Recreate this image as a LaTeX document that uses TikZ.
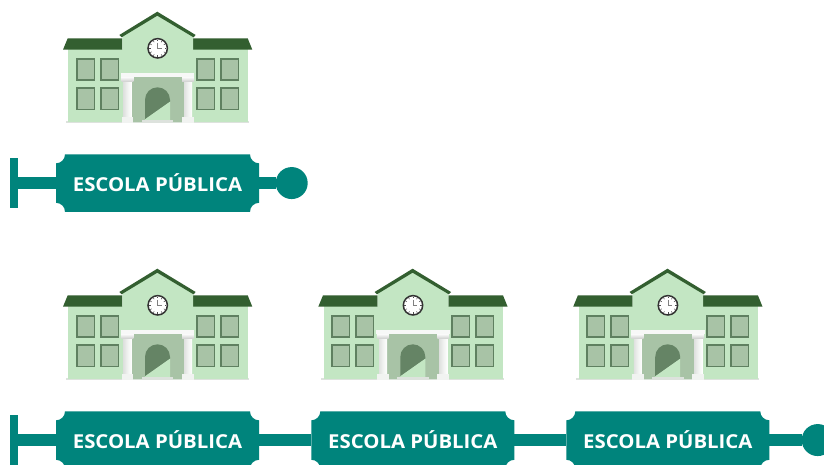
\documentclass[tikz,border=0pt]{standalone}
\usepackage{fontspec}
\setmainfont{Open Sans}[FakeStretch=1.06]
\definecolor{wall}{HTML}{C3E6C3}
\definecolor{roofdark}{HTML}{335F30}
\definecolor{winfill}{HTML}{A8C3A6}
\definecolor{winline}{HTML}{5F8060}
\definecolor{archdark}{HTML}{658465}
\definecolor{bannerteal}{HTML}{00847C}
\definecolor{stone}{HTML}{F1F3F1}
\definecolor{stepgrey}{HTML}{DDE2DD}
\tikzset{
  x=1pt,y=-1pt,
  winbox/.style={fill=winfill,draw=winline,line width=1.5pt},
  colshaft/.style={left color=stone!85!gray,right color=white,middle color=stone},
  colcap/.style={top color=white,bottom color=stone!70!gray},
  schoolbuilding/.pic={
    \fill[stepgrey] (66,121.3) rectangle (249,123.3);
    \fill[wall] (68.3,49) rectangle (247.7,122);
    \fill[roofdark] (63,49.7) -- (67.7,38.3) -- (122.3,38.3) -- (122.3,49.7) -- cycle;
    \fill[roofdark] (193,49.7) -- (193,38.3) -- (247.7,38.3) -- (252.3,49.7) -- cycle;
    \fill[wall] (122.3,36) -- (157.3,15) -- (193,36) -- (193,122) -- (122.3,122) -- cycle;
    \fill[roofdark] (119.3,35) -- (157.3,11.7) -- (195.7,35) -- (193.5,37.3) -- (157.3,15.7) -- (121.6,37.3) -- cycle;
    \foreach \wx in {76,100,196,220}{
      \draw[winbox] (\wx+.75,58.75) rectangle (\wx+18.25,80);
      \draw[winbox] (\wx+.75,87.75) rectangle (\wx+18.25,109.25);
    }
    \fill[winfill] (131,76) rectangle (184,122);
    \fill[archdark] (145,119.3) -- (145,100) .. controls (145,92.8) and (150.6,87.3) .. (157.5,87.3) .. controls (164.4,87.3) and (170,92.8) .. (170,100) -- (170,101.7) -- cycle;
    \fill[wall] (145,119.3) -- (170,101.7) -- (170,120.5) -- (145,120.5) -- cycle;
    \fill[stepgrey] (141.7,120) rectangle (173.3,123.3);
    \foreach \cx in {0,60.5}{
      \shade[colshaft] (123.7+\cx,80) rectangle (131.7+\cx,117);
      \shade[colcap] (121.5+\cx,76.5) rectangle (133.3+\cx,81.5);
      \fill[stone] (121.5+\cx,117) rectangle (133.3+\cx,123.3);
    }
    \fill[stone!60!white] (121,73.3) rectangle (194.3,77);
    \fill[white,draw=black!80,line width=1.5pt] (157.7,48.3) circle[radius=9.7];
    \foreach \ang in {0,30,...,330}{
      \draw[black!70,line width=.5pt] (157.7,48.3) ++(\ang:8.6) -- ++(\ang:-1.6);
    }
    \draw[black!50,line width=.5pt] (157.7,42.5) -- (157.7,48.3) -- (161.5,48.3);
  },
  endbar/.style={fill=bannerteal,minimum width=8pt,minimum height=50pt,inner sep=0pt,outer sep=0pt},
  enddot/.style={circle,fill=bannerteal,minimum size=32pt,inner sep=0pt,outer sep=0pt},
  bannerlabel/.style={minimum width=203pt,minimum height=57.5pt,inner sep=0pt,outer sep=0pt,text=white,
    font=\fontsize{19.2}{20}\selectfont\bfseries},
  bannerlink/.style={bannerteal,line width=12pt},
  bannerbody/.style={fill=bannerteal},
}
\newcommand{\bannerat}[4]{%
  \fill[bannerbody,shift={(#2,#3)}] (9,0) -- (194,0) .. controls (194,5) and (198,9) .. (203,9)
    -- (203,48.5) .. controls (198,48.5) and (194,52.5) .. (194,57.5)
    -- (9,57.5) .. controls (9,52.5) and (5,48.5) .. (0,48.5)
    -- (0,9) .. controls (5,9) and (9,5) .. (9,0) -- cycle;
  \node[bannerlabel] (#1) at (#2+101.5,#3+28.75) {\raisebox{1.2pt}{#4}};
}
\begin{document}
\begin{tikzpicture}
\clip (0,0) rectangle (824,464);
\fill[white] (0,0) rectangle (824,464);
\pic at (0,0) {schoolbuilding};
\pic at (0,257) {schoolbuilding};
\pic at (255.3,257) {schoolbuilding};
\pic at (510.2,257) {schoolbuilding};
\node[endbar] (bara) at (14,183.05) {};
\node[enddot] (dota) at (291.7,183.05) {};
\bannerat{ba}{56}{154.3}{ESCOLA PÚBLICA}
\draw[bannerlink] (bara) -- (ba);
\draw[bannerlink] (ba) -- (dota);
\node[endbar] (barb) at (14,440.05) {};
\node[enddot] (dotb) at (817.7,440.05) {};
\bannerat{bb}{56}{411.3}{ESCOLA PÚBLICA}
\bannerat{bc}{311.3}{411.3}{ESCOLA PÚBLICA}
\bannerat{bd}{566.3}{411.3}{ESCOLA PÚBLICA}
\draw[bannerlink] (barb) -- (bb);
\draw[bannerlink] (bb) -- (bc);
\draw[bannerlink] (bc) -- (bd);
\draw[bannerlink] (bd) -- (dotb);
\end{tikzpicture}
\end{document}
